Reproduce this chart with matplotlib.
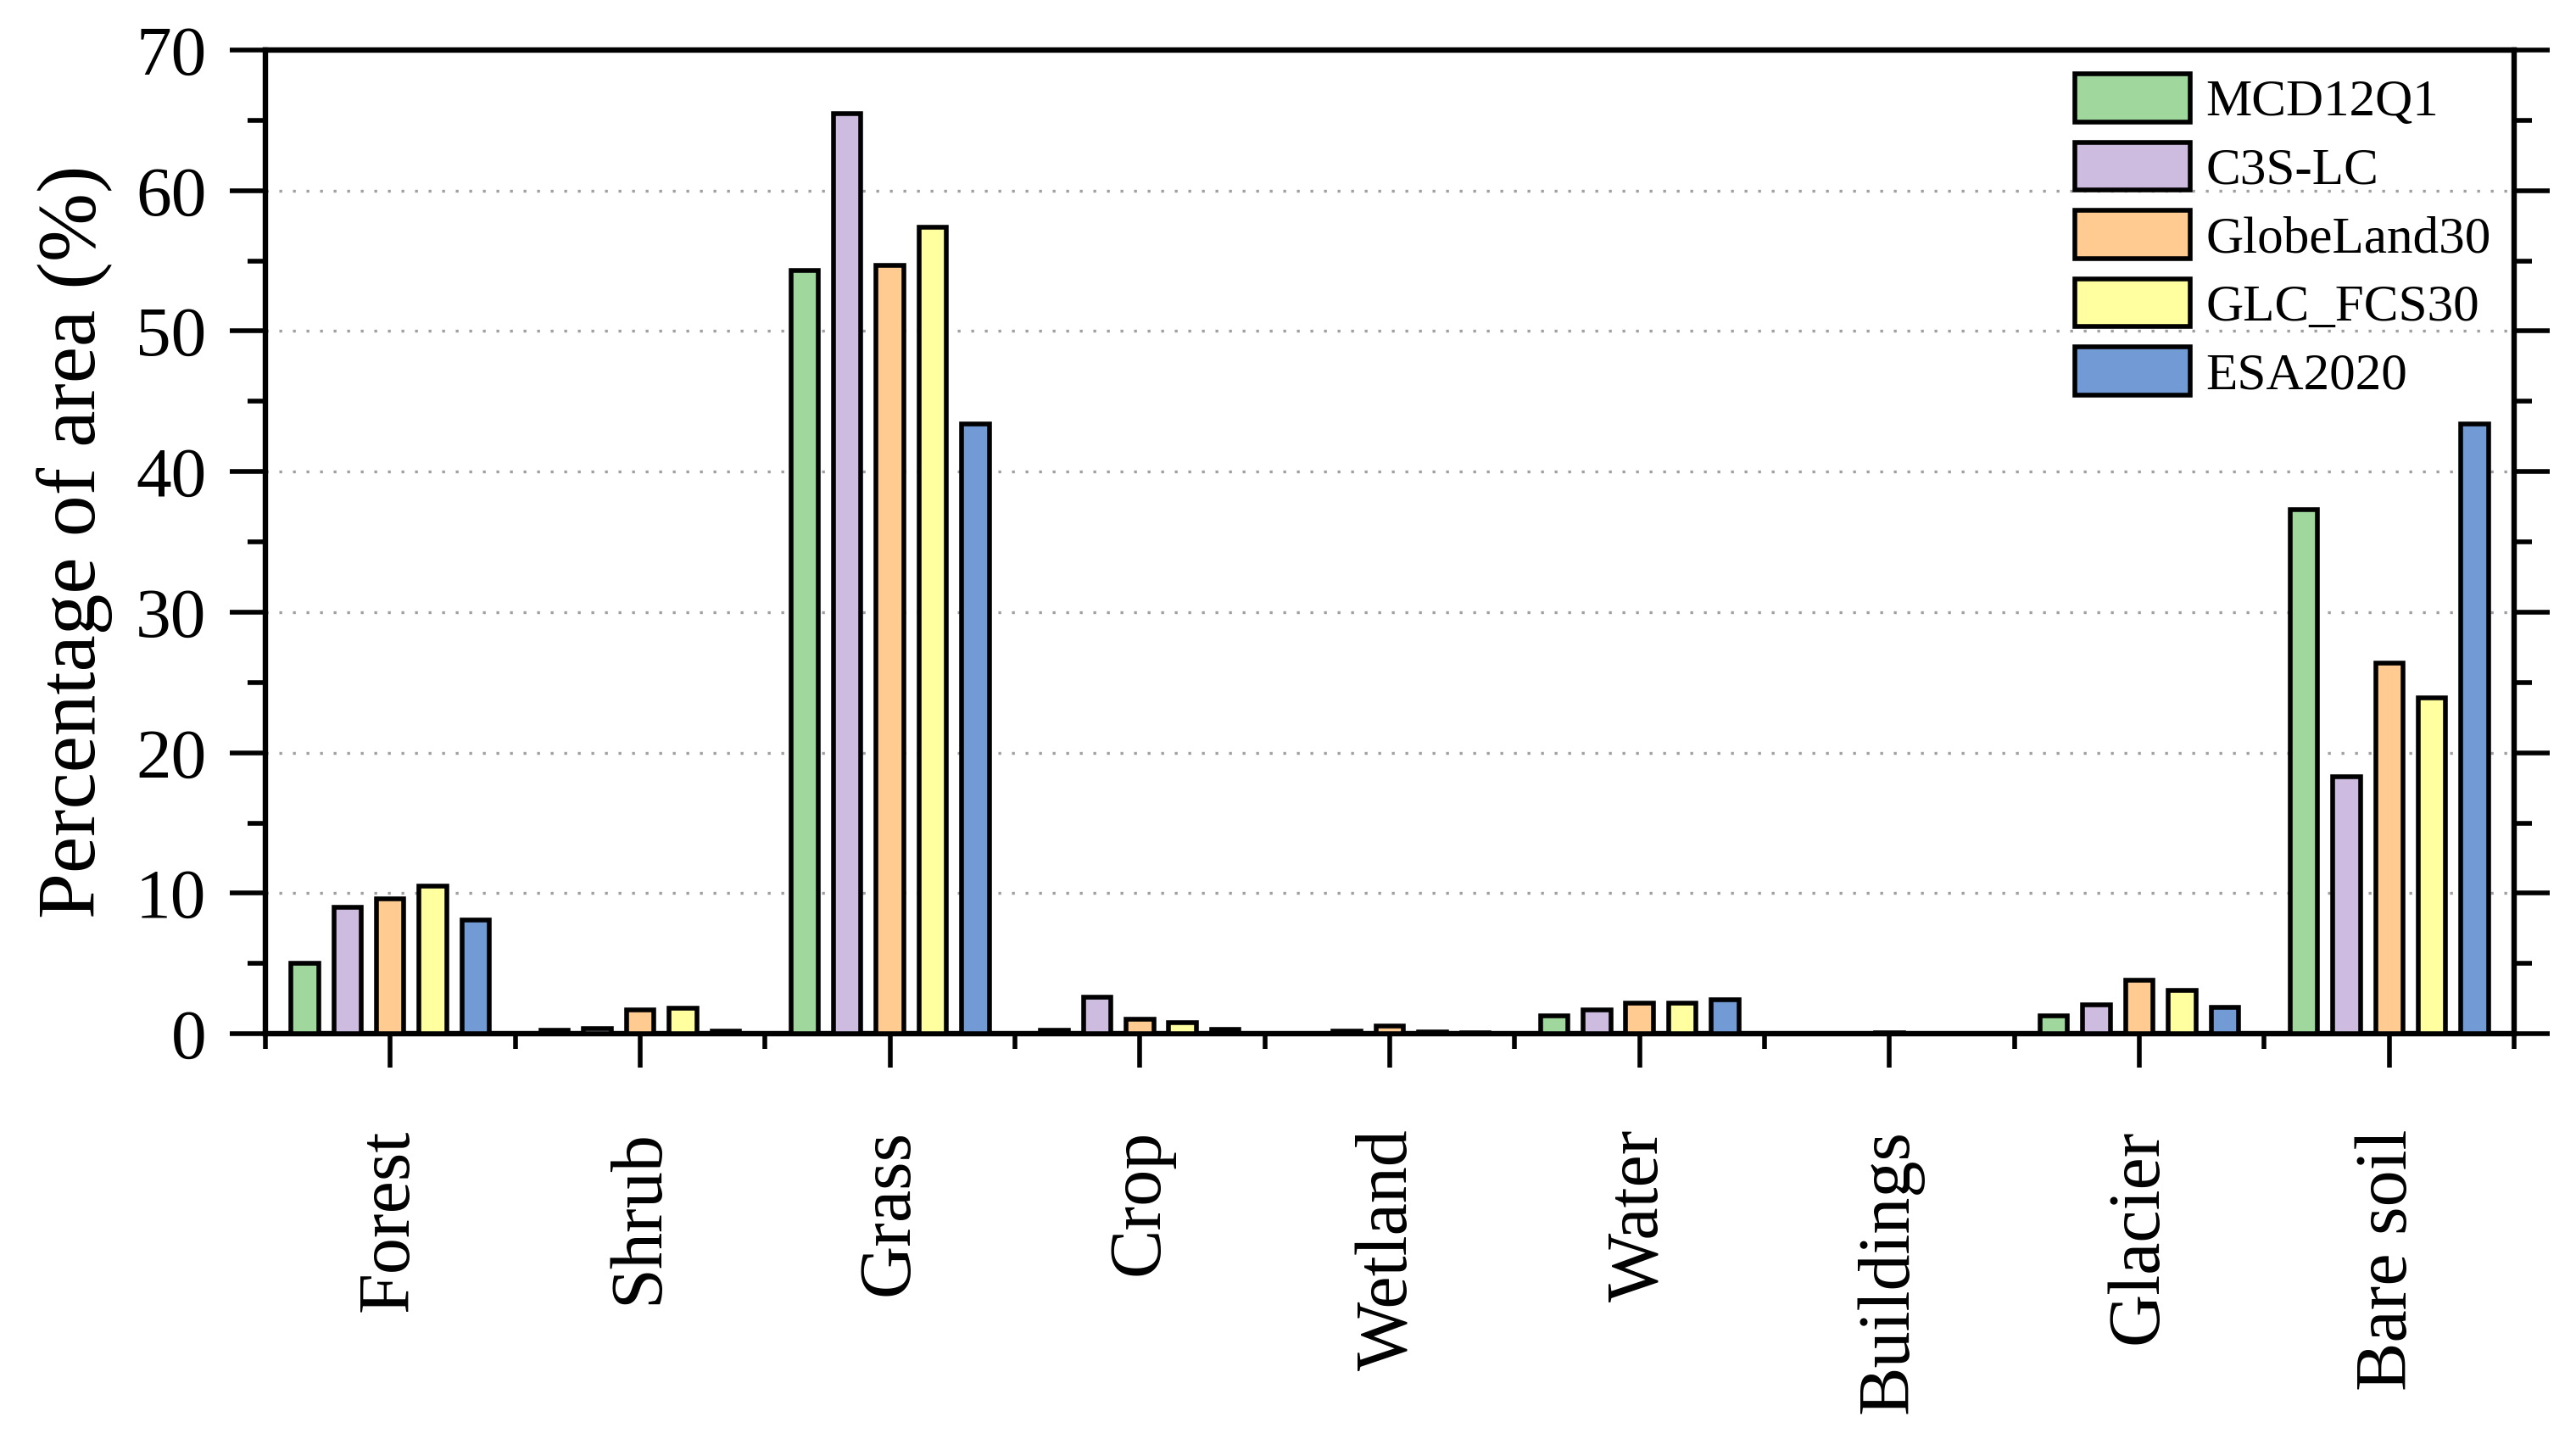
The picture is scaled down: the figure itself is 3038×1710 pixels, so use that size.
import matplotlib
matplotlib.use("Agg")
import matplotlib.pyplot as plt
from matplotlib.ticker import MultipleLocator, FixedLocator
import numpy as np

plt.rcParams["font.family"] = ["Liberation Serif", "DejaVu Serif"]

categories = ["Forest", "Shrub", "Grass", "Crop", "Wetland", "Water",
              "Buildings", "Glacier", "Bare soil"]
series_names = ["MCD12Q1", "C3S-LC", "GlobeLand30", "GLC_FCS30", "ESA2020"]

mcd12q1 = [5.0, 0.25, 54.3, 0.25, 0.0, 1.3, 0.0, 1.3, 37.3]
c3s_lc = [9.0, 0.35, 65.5, 2.6, 0.2, 1.7, 0.0, 2.05, 18.3]
globeland30 = [9.6, 1.7, 54.7, 1.05, 0.55, 2.2, 0.1, 3.8, 26.4]
glc_fcs30 = [10.5, 1.85, 57.4, 0.8, 0.15, 2.2, 0.0, 3.1, 23.9]
esa2020 = [8.1, 0.2, 43.4, 0.3, 0.1, 2.4, 0.0, 1.9, 43.4]

COLORS = ["#9fd79c", "#cdbcdf", "#ffcb90", "#ffff9f", "#729bd5"]

fig = plt.figure(figsize=(15.19, 8.55), dpi=200)
ax = fig.add_axes([0.103, 0.287, 0.873, 0.6785])

x = np.arange(len(categories))
step = 0.171
width = 0.11
all_series = [mcd12q1, c3s_lc, globeland30, glc_fcs30, esa2020]
for i, (vals, name, col) in enumerate(zip(all_series, series_names, COLORS)):
    ax.bar(x + (i - 2) * step, vals, width, color=col, edgecolor="black",
           linewidth=2.0, label=name, zorder=3)

ax.set_xlim(-0.5, len(categories) - 0.5)
ax.set_ylim(0, 70)

# 目盛り
ax.set_xticks(x)
ax.set_xticklabels(categories, rotation=90, fontsize=31)
ax.xaxis.set_minor_locator(FixedLocator(np.arange(-0.5, len(categories), 1)))
ax.yaxis.set_major_locator(MultipleLocator(10))
ax.yaxis.set_minor_locator(MultipleLocator(5))
ax.tick_params(axis="y", which="both", direction="out", left=True, right=True,
               labelsize=30, pad=10)
ax.tick_params(axis="x", which="major", direction="out", length=14.5, width=2.0, pad=26)
ax.tick_params(axis="x", which="minor", direction="out", length=6.5, width=2.0)
ax.tick_params(axis="y", which="major", length=15, width=2.0)
ax.tick_params(axis="y", which="minor", length=7.5, width=2.0)

for sp in ax.spines.values():
    sp.set_linewidth(2.3)

# 点線グリッド
for yv in range(10, 70, 10):
    ax.axhline(yv, color="#a0a0a0", linewidth=1.2, linestyle=(0, (1, 3.8)), zorder=1)

ax.set_ylabel("Percentage of area (%)", fontsize=35)
ax.yaxis.set_label_coords(-0.068, 0.5)

leg = ax.legend(loc="upper left", bbox_to_anchor=(0.8055, 0.949),
                bbox_transform=fig.transFigure, frameon=False, fontsize=22,
                handlelength=2.23, handleheight=1.05, labelspacing=0.3,
                handletextpad=0.3, borderpad=0, borderaxespad=0)
for h in leg.legend_handles:
    h.set_linewidth(2.0)

plt.savefig("out.png", dpi=200)
plt.close()
